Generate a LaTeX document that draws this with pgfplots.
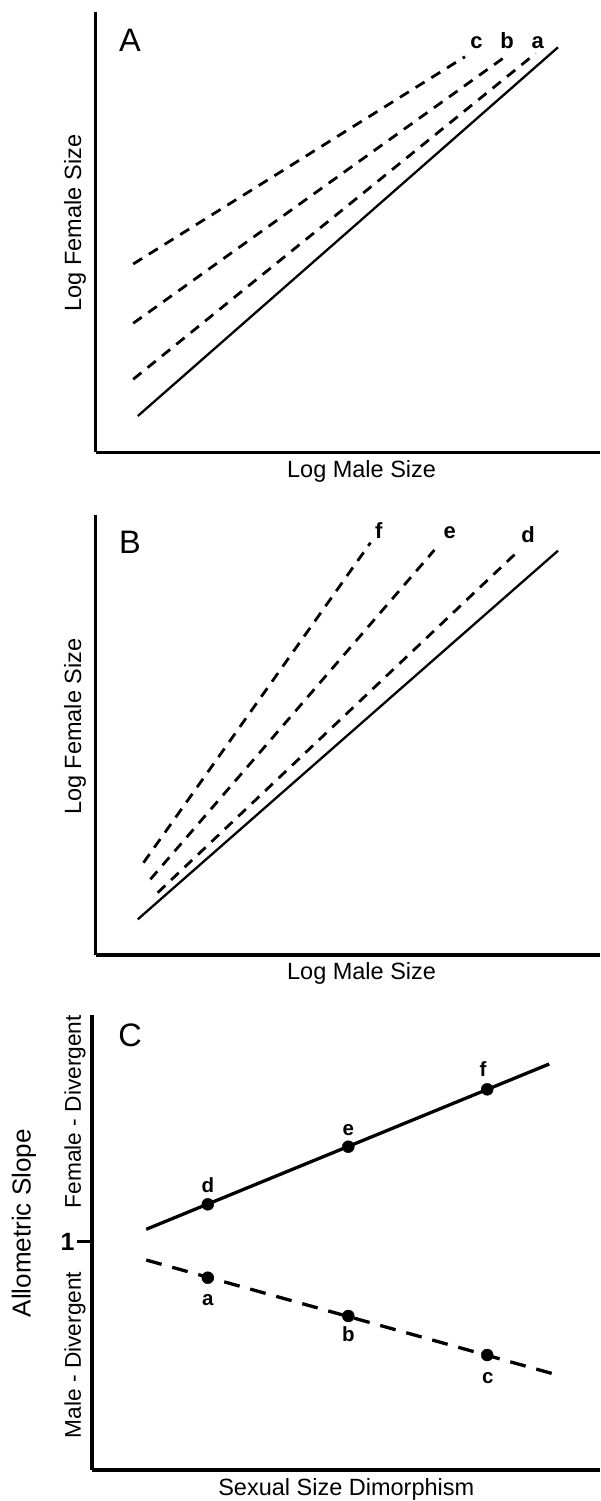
\documentclass[border=0pt]{standalone}
\usepackage{pgfplots}
\pgfplotsset{compat=1.18}
\usepackage{fontspec}
\setmainfont{Liberation Sans}
\begin{document}
\begin{tikzpicture}[x=1pt,y=1pt]
\path[use as bounding box] (0,0) rectangle (600,-1501);
\pgfplotsset{panel/.style={x=1pt,y=1pt,enlargelimits=false,
  axis x line=bottom, axis y line=left,
  axis line style={line width=3.4pt,-},
  xtick=\empty, ytick=\empty, clip=false, anchor=south west}}
\tikzset{lbl/.style={font=\fontsize{23.5}{26}\selectfont},
  big/.style={font=\fontsize{32.5}{34}\selectfont},
  sm/.style={font=\bfseries\fontsize{22}{24}\selectfont},
  smc/.style={font=\bfseries\fontsize{20.5}{23}\selectfont},
  dsh/.style={black, line width=2.8pt, dash pattern=on 10.5pt off 8pt},
  sol/.style={black, line width=2.3pt}}
% ---------------- Panel A
\begin{axis}[panel, xmin=95.7, xmax=600, ymin=-452.3, ymax=-11.7, at={(95.7,-452.3)}]
\addplot[sol] coordinates {(137.8,-416) (558,-47.3)};
\addplot[dsh] coordinates {(133.2,-379.3) (535.8,-53.3)};
\addplot[dsh] coordinates {(133.2,-323.3) (509,-54)};
\addplot[dsh] coordinates {(133.2,-264) (465,-56.7)};
\node[big, anchor=base] at (axis cs:130,-51.7) {A};
\node[sm, anchor=base] at (axis cs:476.5,-49) {c};
\node[sm, anchor=base] at (axis cs:507,-49) {b};
\node[sm, anchor=base] at (axis cs:537.7,-49) {a};
\node[lbl, anchor=base] at (axis cs:361.6,-477) {Log Male Size};
\node[lbl, anchor=base, rotate=90] at (axis cs:81,-223) {Log Female Size};
\end{axis}
% ---------------- Panel B
\begin{axis}[panel, xmin=95.7, xmax=600, ymin=-955, ymax=-515, at={(95.7,-955)}]
\addplot[sol] coordinates {(137.8,-919.3) (558,-550.7)};
\addplot[dsh] coordinates {(157.7,-892.7) (518.6,-550.7)};
\addplot[dsh] coordinates {(150.4,-879.3) (434.4,-550)};
\addplot[dsh] coordinates {(143.5,-862.7) (370.5,-542.7)};
\node[big, anchor=base] at (axis cs:130,-553.3) {B};
\node[sm, anchor=base] at (axis cs:378.9,-538.3) {f};
\node[sm, anchor=base] at (axis cs:449.7,-538.3) {e};
\node[sm, anchor=base] at (axis cs:528,-542.7) {d};
\node[lbl, anchor=base] at (axis cs:361.6,-979) {Log Male Size};
\node[lbl, anchor=base, rotate=90] at (axis cs:81,-726.7) {Log Female Size};
\end{axis}
% ---------------- Panel C
\begin{axis}[panel, xmin=91.8, xmax=600, ymin=-1470, ymax=-1015, at={(91.8,-1470)},
  ytick={-1241.7}, yticklabels={\textbf{1}}, tick align=outside,
  major tick length=15pt, tick style={line width=3pt, black},
  yticklabel style={font=\bfseries\fontsize{25}{27}\selectfont, inner sep=2pt}]
\addplot[black, line width=3.3pt] coordinates {(146.2,-1229.3) (549.2,-1064)};
\addplot[black, line width=3.3pt, dash pattern=on 16pt off 11pt] coordinates {(146.2,-1260) (555,-1374.3)};
\addplot[only marks, mark=*, mark size=6pt, black] coordinates {(207.8,-1204.3) (348.3,-1146.7) (487.2,-1089.3)};
\addplot[only marks, mark=*, mark size=6pt, black] coordinates {(207.8,-1277.7) (348.3,-1316) (487.2,-1355)};
\node[big, anchor=base] at (axis cs:130,-1046) {C};
\node[smc, anchor=base] at (axis cs:207.8,-1192.7) {d};
\node[smc, anchor=base] at (axis cs:348.3,-1135) {e};
\node[smc, anchor=base] at (axis cs:483,-1076) {f};
\node[smc, anchor=base] at (axis cs:207.8,-1305) {a};
\node[smc, anchor=base] at (axis cs:348.3,-1341.7) {b};
\node[smc, anchor=base] at (axis cs:487.9,-1383.3) {c};
\node[lbl, anchor=base] at (axis cs:346.3,-1495) {Sexual Size Dimorphism};
\node[font=\fontsize{26}{28}\selectfont, anchor=base, rotate=90] at (axis cs:30.6,-1223.3) {Allometric Slope};
\node[font=\fontsize{22.7}{25}\selectfont, anchor=base, rotate=90] at (axis cs:81,-1111.7) {Female - Divergent};
\node[font=\fontsize{22.7}{25}\selectfont, anchor=base, rotate=90] at (axis cs:81,-1355) {Male - Divergent};
\end{axis}
\end{tikzpicture}
\end{document}
